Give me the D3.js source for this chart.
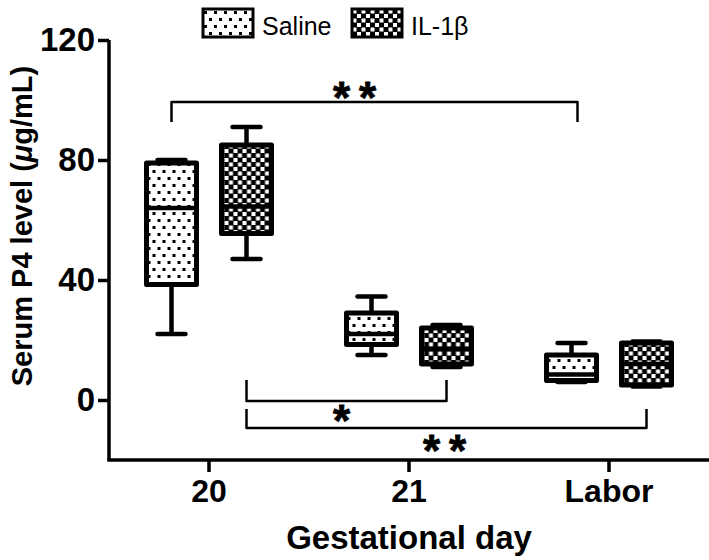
<!DOCTYPE html>
<html>
<head>
<meta charset="utf-8">
<script src="https://cdn.jsdelivr.net/npm/d3@7"></script>
<style>
  body { margin: 0; background: #fff; }
  svg { display: block; }
  text { font-family: "Liberation Sans", Arial, sans-serif; fill: #000; }
</style>
</head>
<body>
<div id="chart"></div>
<script>
// groups on the x axis and the two treatments
const days = ["20", "21", "Labor"];
const groups = ["Saline", "IL-1β"];

// box stats: [min, q1, median, q3, max]
const salineStats = [
  [22, 38.5, 64, 79, 80],
  [15, 18.5, 22, 29, 34.5],
  [6, 6.5, 8.5, 15, 19]
];
const il1bStats = [
  [47, 55.5, 64.5, 85, 91],
  [11, 12, 17, 24, 25],
  [4.5, 5, 12, 19, 19.5]
];

const yTicks = [0, 40, 80, 120];

// significance brackets: from/to as [day, group], level = bar line, leg = leg end, star = label centre
const brackets = [
  { from: ["20", "Saline"], to: ["Labor", "Saline"], level: 99.3, leg: 92.7, star: 103.3, label: "**", dx: -17, toDx: 6 },
  { from: ["20", "IL-1β"], to: ["21", "IL-1β"], level: -0.3, leg: 6.7, star: -4.3, label: "*", dx: -5, toDx: 0 },
  { from: ["20", "IL-1β"], to: ["Labor", "IL-1β"], level: -9.3, leg: -3, star: -14.3, label: "**", dx: -2, toDx: 0 }
];

const width = 709, height = 560;
const svg = d3.select("#chart").append("svg")
  .attr("width", width).attr("height", height);

// patterns
const defs = svg.append("defs");
const dots = defs.append("pattern")
  .attr("id", "dots").attr("patternUnits", "userSpaceOnUse")
  .attr("width", 10).attr("height", 14);
dots.append("rect").attr("width", 10).attr("height", 14).attr("fill", "#fff");
dots.append("rect").attr("x", 1).attr("y", 2).attr("width", 3).attr("height", 3).attr("fill", "#000");
dots.append("rect").attr("x", 6).attr("y", 9).attr("width", 3).attr("height", 3).attr("fill", "#000");

const checks = defs.append("pattern")
  .attr("id", "checks").attr("patternUnits", "userSpaceOnUse")
  .attr("width", 9).attr("height", 9);
checks.append("rect").attr("width", 9).attr("height", 9).attr("fill", "#000");
checks.append("rect").attr("x", 0.5).attr("y", 0.5).attr("width", 4).attr("height", 4).attr("fill", "#fff");
checks.append("rect").attr("x", 5).attr("y", 5).attr("width", 4).attr("height", 4).attr("fill", "#fff");

const fillFor = { "Saline": "url(#dots)", "IL-1β": "url(#checks)" };

// scales
const x = d3.scaleBand().domain(days).range([109, 709]).padding(0);
const xg = d3.scaleBand().domain(groups).range([25, 175]).padding(0);
const y = d3.scaleLinear().domain([-20, 120]).range([460, 40]);

const cx = (day, g) => x(day) + xg(g) + xg.bandwidth() / 2;
const boxW = 50, capW = 28;

// axes
const yAxis = svg.append("g")
  .attr("transform", `translate(${x.range()[0]},0)`)
  .call(d3.axisLeft(y).tickValues(yTicks).tickSize(11).tickPadding(3).tickSizeOuter(0));
yAxis.select(".domain").attr("stroke-width", 3.5).attr("d", `M0,${y(120)}V${y(-20)}`);
yAxis.selectAll(".tick line").attr("stroke-width", 3.5);
yAxis.selectAll(".tick text")
  .attr("font-size", 33).attr("font-weight", "bold").attr("font-family", "Liberation Sans, Arial, sans-serif");

const xAxis = svg.append("g")
  .attr("transform", `translate(0,${y(-20)})`)
  .call(d3.axisBottom(x).tickSize(12).tickPadding(7).tickSizeOuter(0));
xAxis.select(".domain").attr("stroke-width", 3.5).attr("d", `M${x.range()[0] - 1.75},0H${width}`);
xAxis.selectAll(".tick line").attr("stroke-width", 3.5);
xAxis.selectAll(".tick text")
  .attr("font-size", 32).attr("font-weight", "bold").attr("font-family", "Liberation Sans, Arial, sans-serif");

// axis titles
svg.append("text")
  .attr("x", 409).attr("y", 549)
  .attr("text-anchor", "middle")
  .attr("font-size", 33).attr("font-weight", "bold")
  .text("Gestational day");

const yt = svg.append("text")
  .attr("transform", "translate(32,226) rotate(-90)")
  .attr("text-anchor", "middle")
  .attr("font-size", 29).attr("font-weight", "bold");
yt.append("tspan").text("Serum P4 level (");
yt.append("tspan").attr("font-style", "italic").text("μ");
yt.append("tspan").text("g/mL)");

// boxes
const rows = [];
days.forEach((d, i) => {
  rows.push({ day: d, group: "Saline", s: salineStats[i] });
  rows.push({ day: d, group: "IL-1β", s: il1bStats[i] });
});

const box = svg.append("g").selectAll("g").data(rows).join("g")
  .attr("transform", d => `translate(${cx(d.day, d.group)},0)`);

box.append("line")
  .attr("y1", d => y(d.s[0])).attr("y2", d => y(d.s[4]))
  .attr("stroke", "#000").attr("stroke-width", 4.5);
box.append("line")
  .attr("x1", -capW / 2).attr("x2", capW / 2)
  .attr("y1", d => y(d.s[4])).attr("y2", d => y(d.s[4]))
  .attr("stroke", "#000").attr("stroke-width", 4.5).attr("stroke-linecap", "round");
box.append("line")
  .attr("x1", -capW / 2).attr("x2", capW / 2)
  .attr("y1", d => y(d.s[0])).attr("y2", d => y(d.s[0]))
  .attr("stroke", "#000").attr("stroke-width", 4.5).attr("stroke-linecap", "round");
box.append("rect")
  .attr("x", -boxW / 2).attr("width", boxW)
  .attr("y", d => y(d.s[3])).attr("height", d => y(d.s[1]) - y(d.s[3]))
  .attr("fill", d => fillFor[d.group])
  .attr("stroke", "#000").attr("stroke-width", 5).attr("stroke-linejoin", "round");
box.append("line")
  .attr("x1", -boxW / 2).attr("x2", boxW / 2)
  .attr("y1", d => y(d.s[2])).attr("y2", d => y(d.s[2]))
  .attr("stroke", "#000").attr("stroke-width", 4.5);

// brackets
const br = svg.append("g").selectAll("g").data(brackets).join("g");
br.append("path")
  .attr("d", d => {
    const x1 = cx(...d.from), x2 = cx(...d.to) + d.toDx;
    return `M${x1},${y(d.leg)}V${y(d.level)}H${x2}V${y(d.leg)}`;
  })
  .attr("fill", "none").attr("stroke", "#000").attr("stroke-width", 2.5)
  .attr("stroke-linejoin", "round");
// asterisk glyph centre sits about half an em above the baseline
const starSize = 44;
br.append("text")
  .attr("x", d => (cx(...d.from) + cx(...d.to)) / 2 + d.dx)
  .attr("y", d => y(d.star) + starSize * 0.52)
  .attr("text-anchor", "middle")
  .attr("font-size", starSize).attr("font-weight", "bold")
  .attr("stroke", "#000").attr("stroke-width", 0.8)
  .text(d => d.label.split("").join("\u2009"));

// legend
const legend = svg.append("g").selectAll("g").data(groups).join("g")
  .attr("transform", (d, i) => `translate(${203 + i * 149},9)`);
legend.append("rect")
  .attr("width", 50).attr("height", 28)
  .attr("fill", d => fillFor[d])
  .attr("stroke", "#000").attr("stroke-width", 3);
legend.append("text")
  .attr("x", 59).attr("y", 26)
  .attr("font-size", 25)
  .text(d => d);
</script>
</body>
</html>
